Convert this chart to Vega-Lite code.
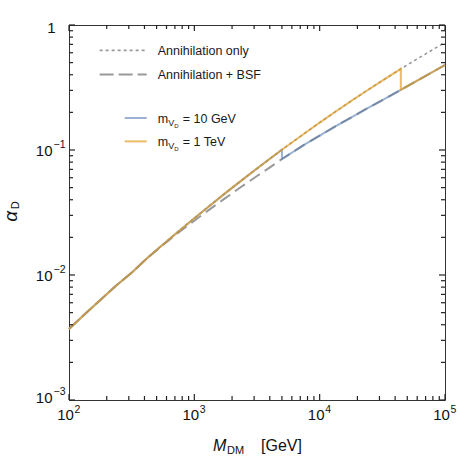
{
  "$schema": "https://vega.github.io/schema/vega-lite/v6.json",
  "width": 376,
  "height": 375,
  "autosize": "none",
  "padding": {"left": 69, "top": 25, "right": 15, "bottom": 58},
  "config": {
    "view": {"stroke": "#333333", "strokeWidth": 1},
    "font": "Liberation Sans",
    "axis": {"labelFont": "Liberation Sans", "labelColor": "#111111", "domain": false, "grid": false, "labelOverlap": false, "labelFlush": false, "labelBound": false}
  },
  "datasets": {
    "xt": [
      {"v": 100, "maj": true}, {"v": 1000, "maj": true}, {"v": 10000, "maj": true}, {"v": 100000, "maj": true},
      {"v": 200, "maj": false}, {"v": 300, "maj": false}, {"v": 400, "maj": false}, {"v": 500, "maj": false},
      {"v": 600, "maj": false}, {"v": 700, "maj": false}, {"v": 800, "maj": false}, {"v": 900, "maj": false},
      {"v": 2000, "maj": false}, {"v": 3000, "maj": false}, {"v": 4000, "maj": false}, {"v": 5000, "maj": false},
      {"v": 6000, "maj": false}, {"v": 7000, "maj": false}, {"v": 8000, "maj": false}, {"v": 9000, "maj": false},
      {"v": 20000, "maj": false}, {"v": 30000, "maj": false}, {"v": 40000, "maj": false}, {"v": 50000, "maj": false},
      {"v": 60000, "maj": false}, {"v": 70000, "maj": false}, {"v": 80000, "maj": false}, {"v": 90000, "maj": false}
    ],
    "yt": [
      {"v": 0.001, "maj": true}, {"v": 0.01, "maj": true}, {"v": 0.1, "maj": true}, {"v": 1, "maj": true},
      {"v": 0.002, "maj": false}, {"v": 0.003, "maj": false}, {"v": 0.004, "maj": false}, {"v": 0.005, "maj": false},
      {"v": 0.006, "maj": false}, {"v": 0.007, "maj": false}, {"v": 0.008, "maj": false}, {"v": 0.009, "maj": false},
      {"v": 0.02, "maj": false}, {"v": 0.03, "maj": false}, {"v": 0.04, "maj": false}, {"v": 0.05, "maj": false},
      {"v": 0.06, "maj": false}, {"v": 0.07, "maj": false}, {"v": 0.08, "maj": false}, {"v": 0.09, "maj": false},
      {"v": 0.2, "maj": false}, {"v": 0.3, "maj": false}, {"v": 0.4, "maj": false}, {"v": 0.5, "maj": false},
      {"v": 0.6, "maj": false}, {"v": 0.7, "maj": false}, {"v": 0.8, "maj": false}, {"v": 0.9, "maj": false}
    ],
    "curves": [
      {"s": "dot", "ord": 1, "M": 100, "a": 0.0037},
      {"s": "dot", "ord": 2, "M": 133.4, "a": 0.004845},
      {"s": "dot", "ord": 3, "M": 177.8, "a": 0.00632},
      {"s": "dot", "ord": 4, "M": 237.1, "a": 0.008216},
      {"s": "dot", "ord": 5, "M": 316.2, "a": 0.01043},
      {"s": "dot", "ord": 6, "M": 421.7, "a": 0.01368},
      {"s": "dot", "ord": 7, "M": 562.3, "a": 0.01754},
      {"s": "dot", "ord": 8, "M": 749.9, "a": 0.0224},
      {"s": "dot", "ord": 9, "M": 1000, "a": 0.02847},
      {"s": "dot", "ord": 10, "M": 1334, "a": 0.03602},
      {"s": "dot", "ord": 11, "M": 1778, "a": 0.04537},
      {"s": "dot", "ord": 12, "M": 2371, "a": 0.05692},
      {"s": "dot", "ord": 13, "M": 3162, "a": 0.07108},
      {"s": "dot", "ord": 14, "M": 3981, "a": 0.08468},
      {"s": "dot", "ord": 15, "M": 5000, "a": 0.1006},
      {"s": "dot", "ord": 16, "M": 7499, "a": 0.1349},
      {"s": "dot", "ord": 17, "M": 10000, "a": 0.1655},
      {"s": "dot", "ord": 18, "M": 13335, "a": 0.2022},
      {"s": "dot", "ord": 19, "M": 17783, "a": 0.2461},
      {"s": "dot", "ord": 20, "M": 23714, "a": 0.2979},
      {"s": "dot", "ord": 21, "M": 31623, "a": 0.359},
      {"s": "dot", "ord": 22, "M": 44400, "a": 0.4455},
      {"s": "dot", "ord": 23, "M": 56234, "a": 0.5152},
      {"s": "dot", "ord": 24, "M": 100000, "a": 0.7259},

      {"s": "dash", "ord": 1, "M": 100, "a": 0.0037},
      {"s": "dash", "ord": 2, "M": 133.4, "a": 0.004845},
      {"s": "dash", "ord": 3, "M": 177.8, "a": 0.00632},
      {"s": "dash", "ord": 4, "M": 237.1, "a": 0.008216},
      {"s": "dash", "ord": 5, "M": 316.2, "a": 0.01043},
      {"s": "dash", "ord": 6, "M": 421.7, "a": 0.01366},
      {"s": "dash", "ord": 7, "M": 562.3, "a": 0.01739},
      {"s": "dash", "ord": 8, "M": 749.9, "a": 0.02187},
      {"s": "dash", "ord": 9, "M": 1000, "a": 0.02719},
      {"s": "dash", "ord": 10, "M": 1334, "a": 0.03365},
      {"s": "dash", "ord": 11, "M": 1778, "a": 0.04138},
      {"s": "dash", "ord": 12, "M": 2371, "a": 0.05077},
      {"s": "dash", "ord": 13, "M": 3162, "a": 0.06191},
      {"s": "dash", "ord": 14, "M": 3981, "a": 0.07238},
      {"s": "dash", "ord": 15, "M": 5000, "a": 0.0847},
      {"s": "dash", "ord": 16, "M": 7499, "a": 0.1097},
      {"s": "dash", "ord": 17, "M": 10000, "a": 0.1302},
      {"s": "dash", "ord": 18, "M": 13335, "a": 0.1543},
      {"s": "dash", "ord": 19, "M": 17783, "a": 0.1816},
      {"s": "dash", "ord": 20, "M": 23714, "a": 0.2139},
      {"s": "dash", "ord": 21, "M": 31623, "a": 0.2506},
      {"s": "dash", "ord": 22, "M": 44400, "a": 0.3026},
      {"s": "dash", "ord": 23, "M": 56234, "a": 0.3453},
      {"s": "dash", "ord": 24, "M": 100000, "a": 0.4786},

      {"s": "blue", "ord": 1, "M": 100, "a": 0.0037},
      {"s": "blue", "ord": 2, "M": 133.4, "a": 0.004845},
      {"s": "blue", "ord": 3, "M": 177.8, "a": 0.00632},
      {"s": "blue", "ord": 4, "M": 237.1, "a": 0.008216},
      {"s": "blue", "ord": 5, "M": 316.2, "a": 0.01043},
      {"s": "blue", "ord": 6, "M": 421.7, "a": 0.01368},
      {"s": "blue", "ord": 7, "M": 562.3, "a": 0.01754},
      {"s": "blue", "ord": 8, "M": 749.9, "a": 0.0224},
      {"s": "blue", "ord": 9, "M": 1000, "a": 0.02847},
      {"s": "blue", "ord": 10, "M": 1334, "a": 0.03602},
      {"s": "blue", "ord": 11, "M": 1778, "a": 0.04537},
      {"s": "blue", "ord": 12, "M": 2371, "a": 0.05692},
      {"s": "blue", "ord": 13, "M": 3162, "a": 0.07108},
      {"s": "blue", "ord": 14, "M": 3981, "a": 0.08468},
      {"s": "blue", "ord": 15, "M": 5000, "a": 0.1006},
      {"s": "blue", "ord": 16, "M": 5000, "a": 0.0847},
      {"s": "blue", "ord": 17, "M": 7499, "a": 0.1097},
      {"s": "blue", "ord": 18, "M": 10000, "a": 0.1302},
      {"s": "blue", "ord": 19, "M": 13335, "a": 0.1543},
      {"s": "blue", "ord": 20, "M": 17783, "a": 0.1816},
      {"s": "blue", "ord": 21, "M": 23714, "a": 0.2139},
      {"s": "blue", "ord": 22, "M": 31623, "a": 0.2506},
      {"s": "blue", "ord": 23, "M": 44400, "a": 0.3026},
      {"s": "blue", "ord": 24, "M": 56234, "a": 0.3453},
      {"s": "blue", "ord": 25, "M": 100000, "a": 0.4786},

      {"s": "orange", "ord": 1, "M": 100, "a": 0.0037},
      {"s": "orange", "ord": 2, "M": 133.4, "a": 0.004845},
      {"s": "orange", "ord": 3, "M": 177.8, "a": 0.00632},
      {"s": "orange", "ord": 4, "M": 237.1, "a": 0.008216},
      {"s": "orange", "ord": 5, "M": 316.2, "a": 0.01043},
      {"s": "orange", "ord": 6, "M": 421.7, "a": 0.01368},
      {"s": "orange", "ord": 7, "M": 562.3, "a": 0.01754},
      {"s": "orange", "ord": 8, "M": 749.9, "a": 0.0224},
      {"s": "orange", "ord": 9, "M": 1000, "a": 0.02847},
      {"s": "orange", "ord": 10, "M": 1334, "a": 0.03602},
      {"s": "orange", "ord": 11, "M": 1778, "a": 0.04537},
      {"s": "orange", "ord": 12, "M": 2371, "a": 0.05692},
      {"s": "orange", "ord": 13, "M": 3162, "a": 0.07108},
      {"s": "orange", "ord": 14, "M": 3981, "a": 0.08468},
      {"s": "orange", "ord": 15, "M": 5000, "a": 0.1006},
      {"s": "orange", "ord": 16, "M": 7499, "a": 0.1349},
      {"s": "orange", "ord": 17, "M": 10000, "a": 0.1655},
      {"s": "orange", "ord": 18, "M": 13335, "a": 0.2022},
      {"s": "orange", "ord": 19, "M": 17783, "a": 0.2461},
      {"s": "orange", "ord": 20, "M": 23714, "a": 0.2979},
      {"s": "orange", "ord": 21, "M": 31623, "a": 0.359},
      {"s": "orange", "ord": 22, "M": 44400, "a": 0.4455},
      {"s": "orange", "ord": 23, "M": 44400, "a": 0.3026},
      {"s": "orange", "ord": 24, "M": 56234, "a": 0.3453},
      {"s": "orange", "ord": 25, "M": 100000, "a": 0.4786}
    ],
    "legend": [
      {"s": "dot", "M": 175.6, "a": 0.6262},
      {"s": "dot", "M": 416.9, "a": 0.6262},
      {"s": "dash", "M": 175.6, "a": 0.4026},
      {"s": "dash", "M": 416.9, "a": 0.4026},
      {"s": "blue", "M": 278.2, "a": 0.1803},
      {"s": "blue", "M": 416.9, "a": 0.1803},
      {"s": "orange", "M": 278.2, "a": 0.1172},
      {"s": "orange", "M": 416.9, "a": 0.1172}
    ],
    "texts": [
      {"k": "main", "M": 510.6, "a": 0.5787, "t": "Annihilation only"},
      {"k": "main", "M": 510.6, "a": 0.372, "t": "Annihilation + BSF"},
      {"k": "main", "M": 510.6, "a": 0.1654, "t": "m"},
      {"k": "main", "M": 510.6, "a": 0.1075, "t": "m"},
      {"k": "subV", "M": 510.6, "a": 0.1654, "t": "V"},
      {"k": "subV", "M": 510.6, "a": 0.1075, "t": "V"},
      {"k": "subD", "M": 510.6, "a": 0.1654, "t": "D"},
      {"k": "subD", "M": 510.6, "a": 0.1075, "t": "D"},
      {"k": "eq", "M": 510.6, "a": 0.1654, "t": "= 10 GeV"},
      {"k": "eq", "M": 510.6, "a": 0.1075, "t": "= 1 TeV"},
      {"k": "xM", "M": 1409, "a": 0.000388, "t": "M"},
      {"k": "xsub", "M": 1409, "a": 0.000388, "t": "DM"},
      {"k": "xgev", "M": 1409, "a": 0.000388, "t": "[GeV]"},
      {"k": "yA", "M": 38.24, "a": 0.02943, "t": "α"},
      {"k": "yD", "M": 39.68, "a": 0.0336, "t": "D"}
    ]
  },
  "layer": [
    {
      "data": {"name": "curves"},
      "transform": [{"filter": "datum.s == 'dot'"}],
      "mark": {"type": "line", "color": "#999999", "strokeWidth": 1.6, "strokeDash": [3, 3]},
      "encoding": {
        "x": {"field": "M", "type": "quantitative", "scale": {"type": "log", "domain": [100, 100000], "nice": false},
          "axis": {"orient": "bottom", "title": null, "values": [100, 1000, 10000, 100000], "offset": -5, "tickSize": 5, "tickOpacity": 0,
            "labelExpr": "'10'", "labelFontSize": 15, "labelPadding": 7, "labelAlign": "center", "labelOffset": -4}},
        "y": {"field": "a", "type": "quantitative", "scale": {"type": "log", "domain": [0.001, 1], "nice": false},
          "axis": {"orient": "left", "title": null, "values": [0.001, 0.01, 0.1, 1], "offset": -5, "tickSize": 5, "tickOpacity": 0,
            "labelExpr": "datum.value==1?'1':'10'", "labelFontSize": 15, "labelAlign": "right", "labelBaseline": "middle",
            "labelPadding": {"condition": {"test": "datum.value==1", "value": 14}, "value": 17},
            "labelOffset": {"condition": [{"test": "datum.value==0.001", "value": -3}, {"test": "datum.value==1", "value": 2}], "value": 0}}},
        "order": {"field": "ord", "type": "quantitative"}
      }
    },
    {
      "data": {"name": "curves"},
      "transform": [{"filter": "datum.s == 'dash'"}],
      "mark": {"type": "line", "color": "#999999", "strokeWidth": 2, "strokeDash": [12, 6]},
      "encoding": {
        "x": {"field": "M", "type": "quantitative", "scale": {"type": "log", "domain": [100, 100000], "nice": false},
          "axis": {"orient": "bottom", "title": null, "values": [100, 1000, 10000, 100000], "offset": -5, "tickSize": 5, "tickOpacity": 0,
            "labelExpr": "datum.value==100?'2':datum.value==1000?'3':datum.value==10000?'4':'5'",
            "labelFontSize": 10.5, "labelPadding": 4, "labelAlign": "left", "labelOffset": 5}},
        "y": {"field": "a", "type": "quantitative", "scale": {"type": "log", "domain": [0.001, 1], "nice": false},
          "axis": {"orient": "left", "title": null, "values": [0.001, 0.01, 0.1, 1], "offset": -5, "tickSize": 5, "tickOpacity": 0,
            "labelExpr": "datum.value==0.1?'−1':datum.value==0.01?'−2':datum.value==0.001?'−3':''",
            "labelFontSize": 10.5, "labelAlign": "left", "labelBaseline": "alphabetic", "labelPadding": 16,
            "labelOffset": {"condition": {"test": "datum.value==0.001", "value": -6}, "value": -3}}},
        "order": {"field": "ord", "type": "quantitative"}
      }
    },
    {
      "data": {"name": "curves"},
      "transform": [{"filter": "datum.s == 'blue'"}],
      "mark": {"type": "line", "color": "#5e81b5", "strokeWidth": 2, "opacity": 0.62},
      "encoding": {
        "x": {"field": "M", "type": "quantitative", "scale": {"type": "log", "domain": [100, 100000], "nice": false}, "axis": null},
        "y": {"field": "a", "type": "quantitative", "scale": {"type": "log", "domain": [0.001, 1], "nice": false}, "axis": null},
        "order": {"field": "ord", "type": "quantitative"}
      }
    },
    {
      "data": {"name": "curves"},
      "transform": [{"filter": "datum.s == 'orange'"}],
      "mark": {"type": "line", "color": "#e19c24", "strokeWidth": 2, "opacity": 0.7},
      "encoding": {
        "x": {"field": "M", "type": "quantitative", "scale": {"type": "log", "domain": [100, 100000], "nice": false}, "axis": null},
        "y": {"field": "a", "type": "quantitative", "scale": {"type": "log", "domain": [0.001, 1], "nice": false}, "axis": null},
        "order": {"field": "ord", "type": "quantitative"}
      }
    },
    {
      "data": {"name": "xt"},
      "transform": [{"filter": "datum.maj"}],
      "mark": {"type": "tick", "orient": "vertical", "size": 6, "thickness": 1.2, "color": "#222222", "opacity": 1, "yOffset": -3},
      "encoding": {
        "x": {"field": "v", "type": "quantitative", "scale": {"type": "log", "domain": [100, 100000], "nice": false}, "axis": null},
        "y": {"datum": 0.001, "type": "quantitative", "scale": {"type": "log", "domain": [0.001, 1], "nice": false}, "axis": null}
      }
    },
    {
      "data": {"name": "xt"},
      "transform": [{"filter": "datum.maj"}],
      "mark": {"type": "tick", "orient": "vertical", "size": 6, "thickness": 1.2, "color": "#222222", "opacity": 1, "yOffset": 3},
      "encoding": {
        "x": {"field": "v", "type": "quantitative", "scale": {"type": "log", "domain": [100, 100000], "nice": false}, "axis": null},
        "y": {"datum": 1, "type": "quantitative", "scale": {"type": "log", "domain": [0.001, 1], "nice": false}, "axis": null}
      }
    },
    {
      "data": {"name": "xt"},
      "transform": [{"filter": "!datum.maj"}],
      "mark": {"type": "tick", "orient": "vertical", "size": 4, "thickness": 1.2, "color": "#222222", "opacity": 1, "yOffset": -2},
      "encoding": {
        "x": {"field": "v", "type": "quantitative", "scale": {"type": "log", "domain": [100, 100000], "nice": false}, "axis": null},
        "y": {"datum": 0.001, "type": "quantitative", "scale": {"type": "log", "domain": [0.001, 1], "nice": false}, "axis": null}
      }
    },
    {
      "data": {"name": "xt"},
      "transform": [{"filter": "!datum.maj"}],
      "mark": {"type": "tick", "orient": "vertical", "size": 4, "thickness": 1.2, "color": "#222222", "opacity": 1, "yOffset": 2},
      "encoding": {
        "x": {"field": "v", "type": "quantitative", "scale": {"type": "log", "domain": [100, 100000], "nice": false}, "axis": null},
        "y": {"datum": 1, "type": "quantitative", "scale": {"type": "log", "domain": [0.001, 1], "nice": false}, "axis": null}
      }
    },
    {
      "data": {"name": "yt"},
      "transform": [{"filter": "datum.maj"}],
      "mark": {"type": "tick", "orient": "horizontal", "size": 6, "thickness": 1.2, "color": "#222222", "opacity": 1, "xOffset": 3},
      "encoding": {
        "y": {"field": "v", "type": "quantitative", "scale": {"type": "log", "domain": [0.001, 1], "nice": false}, "axis": null},
        "x": {"datum": 100, "type": "quantitative", "scale": {"type": "log", "domain": [100, 100000], "nice": false}, "axis": null}
      }
    },
    {
      "data": {"name": "yt"},
      "transform": [{"filter": "datum.maj"}],
      "mark": {"type": "tick", "orient": "horizontal", "size": 6, "thickness": 1.2, "color": "#222222", "opacity": 1, "xOffset": -3},
      "encoding": {
        "y": {"field": "v", "type": "quantitative", "scale": {"type": "log", "domain": [0.001, 1], "nice": false}, "axis": null},
        "x": {"datum": 100000, "type": "quantitative", "scale": {"type": "log", "domain": [100, 100000], "nice": false}, "axis": null}
      }
    },
    {
      "data": {"name": "yt"},
      "transform": [{"filter": "!datum.maj"}],
      "mark": {"type": "tick", "orient": "horizontal", "size": 4, "thickness": 1.2, "color": "#222222", "opacity": 1, "xOffset": 2},
      "encoding": {
        "y": {"field": "v", "type": "quantitative", "scale": {"type": "log", "domain": [0.001, 1], "nice": false}, "axis": null},
        "x": {"datum": 100, "type": "quantitative", "scale": {"type": "log", "domain": [100, 100000], "nice": false}, "axis": null}
      }
    },
    {
      "data": {"name": "yt"},
      "transform": [{"filter": "!datum.maj"}],
      "mark": {"type": "tick", "orient": "horizontal", "size": 4, "thickness": 1.2, "color": "#222222", "opacity": 1, "xOffset": -2},
      "encoding": {
        "y": {"field": "v", "type": "quantitative", "scale": {"type": "log", "domain": [0.001, 1], "nice": false}, "axis": null},
        "x": {"datum": 100000, "type": "quantitative", "scale": {"type": "log", "domain": [100, 100000], "nice": false}, "axis": null}
      }
    },
    {
      "data": {"name": "legend"},
      "transform": [{"filter": "datum.s == 'dot'"}],
      "mark": {"type": "line", "color": "#999999", "strokeWidth": 1.6, "strokeDash": [3, 3]},
      "encoding": {
        "x": {"field": "M", "type": "quantitative", "scale": {"type": "log", "domain": [100, 100000], "nice": false}, "axis": null},
        "y": {"field": "a", "type": "quantitative", "scale": {"type": "log", "domain": [0.001, 1], "nice": false}, "axis": null}
      }
    },
    {
      "data": {"name": "legend"},
      "transform": [{"filter": "datum.s == 'dash'"}],
      "mark": {"type": "line", "color": "#999999", "strokeWidth": 2, "strokeDash": [14, 5]},
      "encoding": {
        "x": {"field": "M", "type": "quantitative", "scale": {"type": "log", "domain": [100, 100000], "nice": false}, "axis": null},
        "y": {"field": "a", "type": "quantitative", "scale": {"type": "log", "domain": [0.001, 1], "nice": false}, "axis": null}
      }
    },
    {
      "data": {"name": "legend"},
      "transform": [{"filter": "datum.s == 'blue'"}],
      "mark": {"type": "line", "color": "#5e81b5", "strokeWidth": 2, "opacity": 0.62},
      "encoding": {
        "x": {"field": "M", "type": "quantitative", "scale": {"type": "log", "domain": [100, 100000], "nice": false}, "axis": null},
        "y": {"field": "a", "type": "quantitative", "scale": {"type": "log", "domain": [0.001, 1], "nice": false}, "axis": null}
      }
    },
    {
      "data": {"name": "legend"},
      "transform": [{"filter": "datum.s == 'orange'"}],
      "mark": {"type": "line", "color": "#e19c24", "strokeWidth": 2, "opacity": 0.7},
      "encoding": {
        "x": {"field": "M", "type": "quantitative", "scale": {"type": "log", "domain": [100, 100000], "nice": false}, "axis": null},
        "y": {"field": "a", "type": "quantitative", "scale": {"type": "log", "domain": [0.001, 1], "nice": false}, "axis": null}
      }
    },
    {
      "data": {"name": "texts"},
      "transform": [{"filter": "datum.k == 'main'"}],
      "mark": {"type": "text", "align": "left", "baseline": "alphabetic", "fontSize": 12.5, "color": "#1a1a1a"},
      "encoding": {
        "x": {"field": "M", "type": "quantitative", "scale": {"type": "log", "domain": [100, 100000], "nice": false}, "axis": null},
        "y": {"field": "a", "type": "quantitative", "scale": {"type": "log", "domain": [0.001, 1], "nice": false}, "axis": null},
        "text": {"field": "t"}
      }
    },
    {
      "data": {"name": "texts"},
      "transform": [{"filter": "datum.k == 'subV'"}],
      "mark": {"type": "text", "align": "left", "baseline": "alphabetic", "fontSize": 9, "dx": 10.5, "dy": 3, "color": "#1a1a1a"},
      "encoding": {
        "x": {"field": "M", "type": "quantitative", "scale": {"type": "log", "domain": [100, 100000], "nice": false}, "axis": null},
        "y": {"field": "a", "type": "quantitative", "scale": {"type": "log", "domain": [0.001, 1], "nice": false}, "axis": null},
        "text": {"field": "t"}
      }
    },
    {
      "data": {"name": "texts"},
      "transform": [{"filter": "datum.k == 'subD'"}],
      "mark": {"type": "text", "align": "left", "baseline": "alphabetic", "fontSize": 6, "dx": 16.5, "dy": 5, "color": "#1a1a1a"},
      "encoding": {
        "x": {"field": "M", "type": "quantitative", "scale": {"type": "log", "domain": [100, 100000], "nice": false}, "axis": null},
        "y": {"field": "a", "type": "quantitative", "scale": {"type": "log", "domain": [0.001, 1], "nice": false}, "axis": null},
        "text": {"field": "t"}
      }
    },
    {
      "data": {"name": "texts"},
      "transform": [{"filter": "datum.k == 'eq'"}],
      "mark": {"type": "text", "align": "left", "baseline": "alphabetic", "fontSize": 12.5, "dx": 25, "color": "#1a1a1a"},
      "encoding": {
        "x": {"field": "M", "type": "quantitative", "scale": {"type": "log", "domain": [100, 100000], "nice": false}, "axis": null},
        "y": {"field": "a", "type": "quantitative", "scale": {"type": "log", "domain": [0.001, 1], "nice": false}, "axis": null},
        "text": {"field": "t"}
      }
    },
    {
      "data": {"name": "texts"},
      "transform": [{"filter": "datum.k == 'xM'"}],
      "mark": {"type": "text", "align": "left", "baseline": "alphabetic", "fontSize": 16, "fontStyle": "italic", "color": "#111111"},
      "encoding": {
        "x": {"field": "M", "type": "quantitative", "scale": {"type": "log", "domain": [100, 100000], "nice": false}, "axis": null},
        "y": {"field": "a", "type": "quantitative", "scale": {"type": "log", "domain": [0.001, 1], "nice": false}, "axis": null},
        "text": {"field": "t"}
      }
    },
    {
      "data": {"name": "texts"},
      "transform": [{"filter": "datum.k == 'xsub'"}],
      "mark": {"type": "text", "align": "left", "baseline": "alphabetic", "fontSize": 11, "dx": 14, "dy": 3, "color": "#111111"},
      "encoding": {
        "x": {"field": "M", "type": "quantitative", "scale": {"type": "log", "domain": [100, 100000], "nice": false}, "axis": null},
        "y": {"field": "a", "type": "quantitative", "scale": {"type": "log", "domain": [0.001, 1], "nice": false}, "axis": null},
        "text": {"field": "t"}
      }
    },
    {
      "data": {"name": "texts"},
      "transform": [{"filter": "datum.k == 'xgev'"}],
      "mark": {"type": "text", "align": "left", "baseline": "alphabetic", "fontSize": 16, "dx": 48, "color": "#111111"},
      "encoding": {
        "x": {"field": "M", "type": "quantitative", "scale": {"type": "log", "domain": [100, 100000], "nice": false}, "axis": null},
        "y": {"field": "a", "type": "quantitative", "scale": {"type": "log", "domain": [0.001, 1], "nice": false}, "axis": null},
        "text": {"field": "t"}
      }
    },
    {
      "data": {"name": "texts"},
      "transform": [{"filter": "datum.k == 'yA'"}],
      "mark": {"type": "text", "align": "center", "baseline": "alphabetic", "fontSize": 19, "fontStyle": "italic", "angle": 270, "color": "#111111"},
      "encoding": {
        "x": {"field": "M", "type": "quantitative", "scale": {"type": "log", "domain": [100, 100000], "nice": false}, "axis": null},
        "y": {"field": "a", "type": "quantitative", "scale": {"type": "log", "domain": [0.001, 1], "nice": false}, "axis": null},
        "text": {"field": "t"}
      }
    },
    {
      "data": {"name": "texts"},
      "transform": [{"filter": "datum.k == 'yD'"}],
      "mark": {"type": "text", "align": "left", "baseline": "alphabetic", "fontSize": 11, "angle": 270, "color": "#111111"},
      "encoding": {
        "x": {"field": "M", "type": "quantitative", "scale": {"type": "log", "domain": [100, 100000], "nice": false}, "axis": null},
        "y": {"field": "a", "type": "quantitative", "scale": {"type": "log", "domain": [0.001, 1], "nice": false}, "axis": null},
        "text": {"field": "t"}
      }
    }
  ],
  "resolve": {"axis": {"x": "independent", "y": "independent"}}
}
